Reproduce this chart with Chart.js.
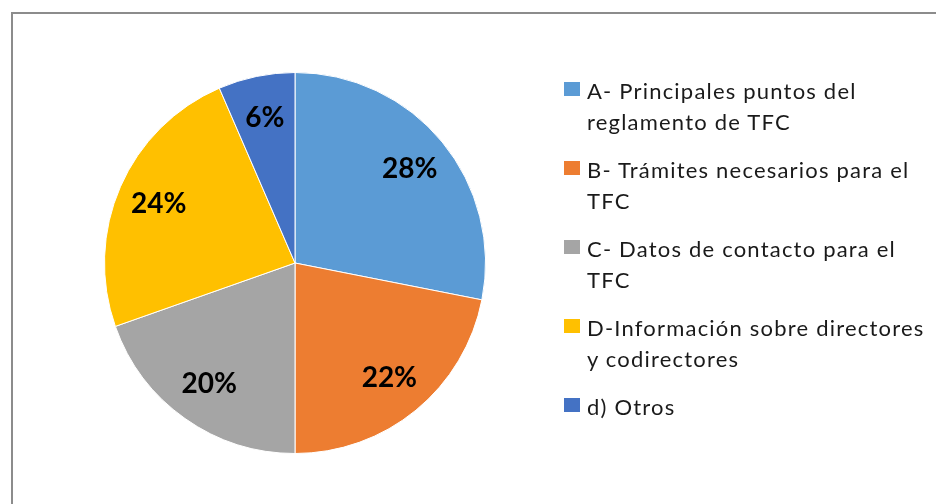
<!DOCTYPE html>
<html>
<head>
<meta charset="utf-8">
<script src="https://cdn.jsdelivr.net/npm/chart.js@4.4.0/dist/chart.umd.min.js"></script>
<style>
    html, body { margin: 0; padding: 0; background: #fff; }
    #wrap { position: relative; width: 936px; height: 504px; overflow: hidden; }
    #frame {
        position: absolute; left: 11px; top: 12px; width: 960px; height: 520px;
        border: 2px solid #8c8c8c; box-sizing: border-box;
    }
    #chart { position: absolute; left: 0; top: 0; }
    #legend {
        position: absolute; left: 564px; top: 75px; width: 372px;
        font-family: Lato, "Open Sans", sans-serif; font-size: 22px; color: #1a1a1a;
        letter-spacing: 1.2px; white-space: nowrap;
    }
    .item { position: relative; padding-left: 23px; line-height: 31px; margin-bottom: 17px; }
    .swatch { position: absolute; left: 0; top: 7px; width: 16px; height: 14px; }
</style>
</head>
<body>
<div id="wrap">
    <div id="frame"></div>
    <canvas id="chart" width="936" height="504"></canvas>
    <div id="legend"></div>
</div>
<script>
const categories = [
    'A- Principales puntos del reglamento de TFC',
    'B- Trámites necesarios para el TFC',
    'C- Datos de contacto para el TFC',
    'D-Información sobre directores y codirectores',
    'd) Otros'
];
const legendLines = [
    ['A- Principales puntos del', 'reglamento de TFC'],
    ['B- Trámites necesarios para el', 'TFC'],
    ['C- Datos de contacto para el', 'TFC'],
    ['D-Información sobre directores', 'y codirectores'],
    ['d) Otros']
];
// slice sizes, labels as printed on it
const shares = [28.1, 21.9, 19.6, 23.9, 6.5];
const pctLabels = ['28%', '22%', '20%', '24%', '6%'];
const colors = ['#5b9bd5', '#ed7d31', '#a5a5a5', '#ffc000', '#4472c4'];

const legendEl = document.getElementById('legend');
legendLines.forEach((lines, i) => {
    const div = document.createElement('div');
    div.className = 'item';
    div.innerHTML = '<span class="swatch" style="background:' + colors[i] + '"></span>' + lines.join('<br>');
    legendEl.appendChild(div);
});

const sliceLabels = {
    id: 'sliceLabels',
    afterDatasetsDraw(chart) {
        const ctx = chart.ctx;
        const meta = chart.getDatasetMeta(0);
        ctx.save();
        ctx.font = 'bold 28px Lato, "Open Sans", sans-serif';
        ctx.fillStyle = '#000';
        ctx.textAlign = 'center';
        ctx.textBaseline = 'middle';
        meta.data.forEach((arc, i) => {
            const p = arc.getProps(['x', 'y', 'startAngle', 'endAngle', 'outerRadius'], true);
            const mid = (p.startAngle + p.endAngle) / 2;
            const r = p.outerRadius * 0.78;
            ctx.fillText(pctLabels[i], p.x + Math.cos(mid) * r, p.y + Math.sin(mid) * r);
        });
        ctx.restore();
    }
};

new Chart(document.getElementById('chart'), {
    type: 'pie',
    data: {
        labels: categories,
        datasets: [{
            data: shares,
            backgroundColor: colors,
            borderColor: '#ffffff',
            borderWidth: 1
        }]
    },
    options: {
        responsive: false,
        animation: false,
        layout: { padding: { left: 104, top: 72, bottom: 50, right: 450 } },
        plugins: {
            legend: { display: false },
            tooltip: { enabled: false }
        }
    },
    plugins: [sliceLabels]
});
</script>
</body>
</html>
